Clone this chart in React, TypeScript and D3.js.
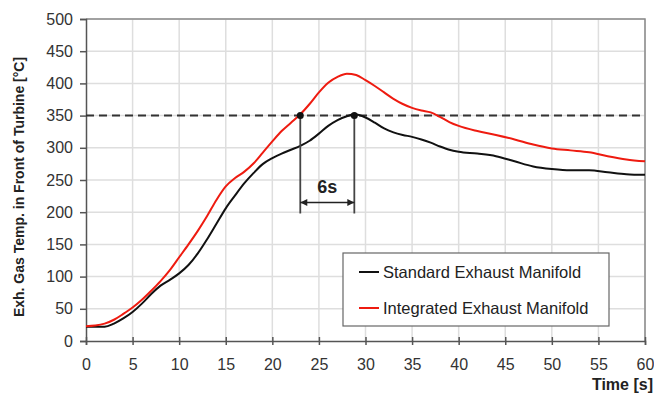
import { useEffect, useRef } from 'react';
import * as d3 from 'd3';

// time axis samples [s]
const timeStd = [0, 1, 2, 3, 4, 5, 6, 7, 8, 9, 10, 11, 12, 13, 14, 15, 16, 17, 18, 19, 20, 21, 22, 23, 24, 25, 26, 27, 28, 28.8, 30, 31, 32, 33, 34, 35, 36, 37, 38, 39, 40, 42, 44, 46, 48, 50, 52, 54, 56, 58, 60];
const standardTemp = [22, 22, 22, 27, 35, 45, 58, 73, 86, 95, 105, 118, 136, 158, 182, 206, 226, 245, 261, 275, 284, 291, 297, 303, 311, 322, 334, 343, 349, 352, 347, 339, 330, 324, 320, 317, 313, 308, 302, 297, 294, 291, 287, 279, 271, 267, 265, 265, 262, 259, 258];

const timeInt = [0, 1, 2, 3, 4, 5, 6, 7, 8, 9, 10, 11, 12, 13, 14, 15, 16, 17, 18, 19, 20, 21, 22, 23, 24, 25, 26, 27, 28, 29, 30, 31, 32, 33, 34, 35, 36, 37, 38, 39, 40, 42, 44, 46, 48, 50, 52, 54, 56, 58, 60];
const integratedTemp = [23, 24, 27, 33, 42, 52, 64, 78, 93, 110, 130, 150, 171, 194, 219, 240, 253, 263, 276, 293, 310, 326, 339, 352, 368, 386, 401, 410, 415, 413, 405, 396, 386, 376, 368, 362, 358, 355, 348, 340, 334, 326, 320, 313, 305, 299, 296, 293, 287, 282, 279];

const xTicks = [0, 5, 10, 15, 20, 25, 30, 35, 40, 45, 50, 55, 60];
const yTicks = [0, 50, 100, 150, 200, 250, 300, 350, 400, 450, 500];

const seriesNames = ['Standard Exhaust Manifold', 'Integrated Exhaust Manifold'];
const seriesColors = ['#111111', '#ee1b10'];

// annotation: 350 °C threshold, crossing times
const threshold = 350;
const crossTimes = [23, 28.8];
const arrowLevel = 215;
const dropLevel = 198;
const delayLabel = '6s';

export default function App() {
  const svgRef = useRef<SVGSVGElement>(null);

  useEffect(() => {
    const el = svgRef.current;
    if (!el) return;
    const width = 654,
      height = 394;
    const margin = { left: 86, right: 9, top: 19, bottom: 53 };

    const svg = d3.select(el);
    svg.selectAll('*').remove();
    svg.attr('width', width).attr('height', height);

    const x = d3.scaleLinear().domain([0, 60]).range([margin.left, width - margin.right]);
    const y = d3.scaleLinear().domain([0, 500]).range([height - margin.bottom, margin.top]);

    const font = 'Liberation Sans, Arial, sans-serif';

    svg.append('rect').attr('width', width).attr('height', height).attr('fill', 'white');

    // grid
    const grid = svg.append('g').attr('stroke', '#dedede').attr('stroke-width', 1.5);
    grid
      .selectAll('line.v')
      .data(xTicks.slice(1))
      .join('line')
      .attr('class', 'v')
      .attr('x1', (d) => x(d))
      .attr('x2', (d) => x(d))
      .attr('y1', y(500))
      .attr('y2', y(0));
    grid
      .selectAll('line.h')
      .data(yTicks.slice(1))
      .join('line')
      .attr('class', 'h')
      .attr('x1', x(0))
      .attr('x2', x(60))
      .attr('y1', (d) => y(d))
      .attr('y2', (d) => y(d));

    // frame top / right
    svg
      .append('path')
      .attr('d', `M${x(0)},${y(500)}H${x(60)}V${y(0)}`)
      .attr('fill', 'none')
      .attr('stroke', '#8a8a8a')
      .attr('stroke-width', 1.5);

    // axes
    const xAxis = svg
      .append('g')
      .attr('transform', `translate(0,${y(0)})`)
      .call(d3.axisBottom(x).tickValues(xTicks).tickSize(4).tickPadding(14));
    const yAxis = svg
      .append('g')
      .attr('transform', `translate(${x(0)},0)`)
      .call(d3.axisLeft(y).tickValues(yTicks).tickSize(6).tickPadding(7));
    [xAxis, yAxis].forEach((g) => {
      g.select('.domain').attr('stroke', '#555').attr('stroke-width', 1.5);
      g.selectAll('.tick line').attr('stroke', '#555').attr('stroke-width', 1.5);
      g.selectAll('.tick text')
        .attr('font-family', font)
        .attr('font-size', 16)
        .attr('fill', '#333');
    });
    xAxis.selectAll('.tick line').attr('y1', -4);

    // threshold line
    svg
      .append('line')
      .attr('x1', x(0))
      .attr('x2', x(60))
      .attr('y1', y(threshold))
      .attr('y2', y(threshold))
      .attr('stroke', '#333')
      .attr('stroke-width', 2)
      .attr('stroke-dasharray', '8,5');

    // curves
    const line = d3
      .line<[number, number]>()
      .x((d) => x(d[0]))
      .y((d) => y(d[1]))
      .curve(d3.curveMonotoneX);
    const series: [number, number][][] = [
      timeStd.map((t, i) => [t, standardTemp[i]]),
      timeInt.map((t, i) => [t, integratedTemp[i]]),
    ];
    svg
      .append('g')
      .selectAll('path')
      .data(series)
      .join('path')
      .attr('d', (d) => line(d))
      .attr('fill', 'none')
      .attr('stroke', (_, i) => seriesColors[i])
      .attr('stroke-width', 2);

    // delay annotation
    const ann = svg.append('g');
    ann
      .selectAll('line.drop')
      .data(crossTimes)
      .join('line')
      .attr('class', 'drop')
      .attr('x1', (d) => x(d))
      .attr('x2', (d) => x(d))
      .attr('y1', y(threshold))
      .attr('y2', y(dropLevel))
      .attr('stroke', '#444')
      .attr('stroke-width', 1.8);
    ann
      .selectAll('circle')
      .data(crossTimes)
      .join('circle')
      .attr('cx', (d) => x(d))
      .attr('cy', y(threshold))
      .attr('r', 3.5)
      .attr('fill', '#111');
    const ay = y(arrowLevel);
    const ax1 = x(crossTimes[0]);
    const ax2 = x(crossTimes[1]);
    ann
      .append('line')
      .attr('x1', ax1)
      .attr('x2', ax2)
      .attr('y1', ay)
      .attr('y2', ay)
      .attr('stroke', '#222')
      .attr('stroke-width', 1.5);
    ann
      .append('path')
      .attr('d', `M${ax1},${ay}l7,-3.5v7z M${ax2},${ay}l-7,-3.5v7z`)
      .attr('fill', '#222');
    ann
      .append('text')
      .attr('x', (ax1 + ax2) / 2)
      .attr('y', ay - 10)
      .attr('text-anchor', 'middle')
      .attr('font-family', font)
      .attr('font-weight', 700)
      .attr('font-size', 18)
      .attr('fill', '#222')
      .text(delayLabel);

    // legend
    const lg = svg.append('g').attr('transform', 'translate(343,253)');
    lg.append('rect')
      .attr('width', 266)
      .attr('height', 73)
      .attr('fill', 'white')
      .attr('stroke', '#666')
      .attr('stroke-width', 1.2);
    seriesNames.forEach((name, i) => {
      const cy = 19 + i * 36;
      lg.append('line')
        .attr('x1', 16)
        .attr('x2', 36)
        .attr('y1', cy)
        .attr('y2', cy)
        .attr('stroke', seriesColors[i])
        .attr('stroke-width', 2);
      lg.append('text')
        .attr('x', 40)
        .attr('y', cy)
        .attr('dy', '0.35em')
        .attr('font-family', font)
        .attr('font-size', 16.5)
        .attr('fill', '#222')
        .text(name);
    });

    // axis titles
    svg
      .append('text')
      .attr('transform', `translate(24,187) rotate(-90)`)
      .attr('text-anchor', 'middle')
      .attr('font-family', font)
      .attr('font-weight', 700)
      .attr('font-size', 14)
      .attr('fill', '#222')
      .text('Exh. Gas Temp. in Front of Turbine [°C]');
    svg
      .append('text')
      .attr('x', 653)
      .attr('y', 390)
      .attr('text-anchor', 'end')
      .attr('font-family', font)
      .attr('font-weight', 700)
      .attr('font-size', 16)
      .attr('fill', '#222')
      .text('Time [s]');
  }, []);

  return (
    <svg
      ref={svgRef}
      style={{ position: 'absolute', left: 0, top: 0, display: 'block' }}
    />
  );
}
